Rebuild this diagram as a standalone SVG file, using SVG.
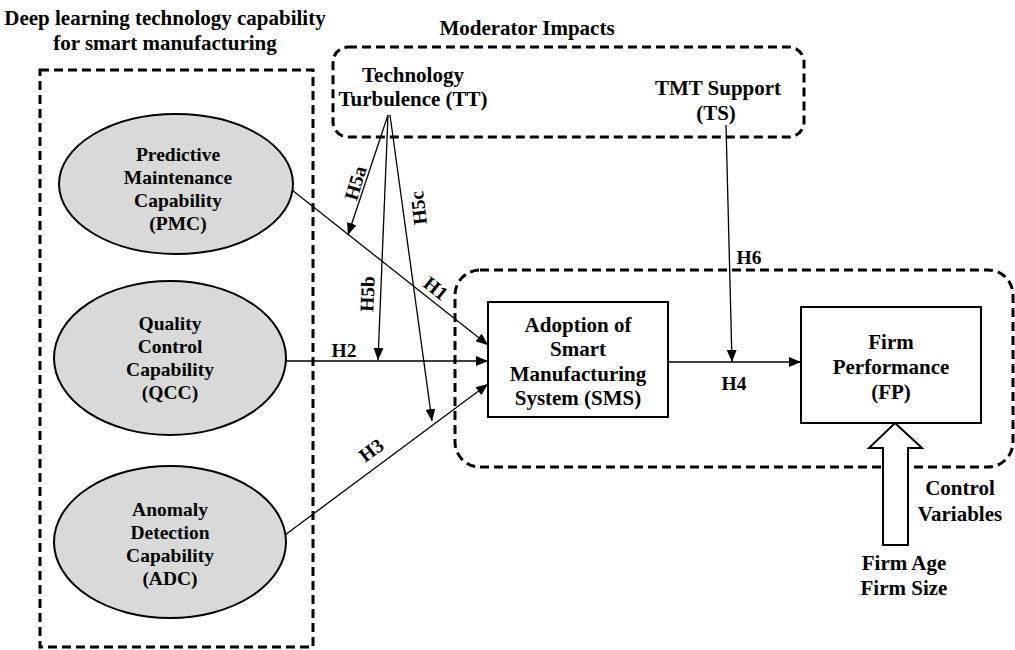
<svg xmlns="http://www.w3.org/2000/svg" width="1015" height="650" viewBox="0 0 1015 650">
<style>
text{font-family:"Liberation Serif","Times New Roman",serif;font-weight:bold;fill:#000;text-anchor:middle}
.h{font-size:21px}
.n{font-size:19.5px}
.b{font-size:21px}
.l{font-size:19.5px}
.dash{fill:none;stroke:#000;stroke-width:3;stroke-dasharray:9 5}
.ell{fill:#d9d9d9;stroke:#000;stroke-width:2}
.box{fill:#fff;stroke:#000;stroke-width:2}
.c{fill:none;stroke:#000;stroke-width:1.3}
</style>
<defs>
<marker id="ah" markerUnits="userSpaceOnUse" markerWidth="12" markerHeight="10" refX="12" refY="5" orient="auto">
<path d="M0,0 L12,5 L0,10 z" fill="#000"/>
</marker>
</defs>
<rect width="1015" height="650" fill="#fff"/>

<g id="group-dl">
<rect class="dash" x="40" y="70" width="273" height="577"/>
<text class="h" x="165" y="25">Deep learning technology capability</text>
<text class="h" x="165" y="50">for smart manufacturing</text>
</g>

<g id="group-moderator">
<rect class="dash" x="333" y="47" width="471" height="90" rx="15"/>
<text class="h" x="527" y="35">Moderator Impacts</text>
</g>

<g id="group-outcome">
<rect class="dash" x="455" y="270" width="558" height="197" rx="25"/>
</g>

<g id="node-pmc">
<ellipse class="ell" cx="176" cy="184" rx="117" ry="70"/>
<text class="n" x="178" y="161">Predictive</text>
<text class="n" x="178" y="184">Maintenance</text>
<text class="n" x="178" y="207">Capability</text>
<text class="n" x="178" y="230">(PMC)</text>
</g>

<g id="node-qcc">
<ellipse class="ell" cx="170" cy="358" rx="116" ry="77"/>
<text class="n" x="170" y="330">Quality</text>
<text class="n" x="170" y="353">Control</text>
<text class="n" x="170" y="376">Capability</text>
<text class="n" x="170" y="399">(QCC)</text>
</g>

<g id="node-adc">
<ellipse class="ell" cx="170" cy="542" rx="116" ry="76"/>
<text class="n" x="170" y="516">Anomaly</text>
<text class="n" x="170" y="539">Detection</text>
<text class="n" x="170" y="562">Capability</text>
<text class="n" x="170" y="585">(ADC)</text>
</g>

<g id="node-tt">
<text class="h" x="413" y="82">Technology</text>
<text class="h" x="413" y="106">Turbulence (TT)</text>
</g>

<g id="node-ts">
<text class="h" x="718" y="95">TMT Support</text>
<text class="h" x="716" y="120">(TS)</text>
</g>

<g id="node-sms">
<rect class="box" x="488" y="302" width="180" height="115"/>
<text class="b" x="578" y="332">Adoption of</text>
<text class="b" x="578" y="356">Smart</text>
<text class="b" x="578" y="381">Manufacturing</text>
<text class="b" x="578" y="405">System (SMS)</text>
</g>

<g id="node-fp">
<rect class="box" x="801" y="307" width="180" height="116"/>
<text class="b" x="891" y="349">Firm</text>
<text class="b" x="891" y="374">Performance</text>
<text class="b" x="891" y="399">(FP)</text>
</g>

<g id="node-control">
<polygon points="895,423 922,448 908,448 908,545 883,545 883,448 869,448" fill="#fff" stroke="#000" stroke-width="2"/>
<text class="h" x="960" y="495">Control</text>
<text class="h" x="960" y="521">Variables</text>
<text class="h" x="904" y="570">Firm Age</text>
<text class="h" x="904" y="595">Firm Size</text>
</g>

<g id="connectors">
<path class="c" d="M292,190 L488,345" marker-end="url(#ah)"/>
<path class="c" d="M286,361 L488,361" marker-end="url(#ah)"/>
<path class="c" d="M285,535 L488,384" marker-end="url(#ah)"/>
<path class="c" d="M668,362 L801,362" marker-end="url(#ah)"/>
<path class="c" d="M388,115 L348,235" marker-end="url(#ah)"/>
<path class="c" d="M388,115 L378,360" marker-end="url(#ah)"/>
<path class="c" d="M390,115 L432,421" marker-end="url(#ah)"/>
<path class="c" d="M726,125 L732,362" marker-end="url(#ah)"/>
</g>

<g id="labels">
<text class="l" transform="translate(436,288) rotate(38.5)" y="7">H1</text>
<text class="l" x="344" y="357">H2</text>
<text class="l" transform="translate(371,450) rotate(-37)" y="7">H3</text>
<text class="l" x="734" y="390">H4</text>
<text class="l" transform="translate(355,183) rotate(-73)" y="7">H5a</text>
<text class="l" transform="translate(367,294) rotate(-88)" y="7">H5b</text>
<text class="l" transform="translate(418,208) rotate(-97)" y="7">H5c</text>
<text class="l" x="749" y="264">H6</text>
</g>
</svg>
